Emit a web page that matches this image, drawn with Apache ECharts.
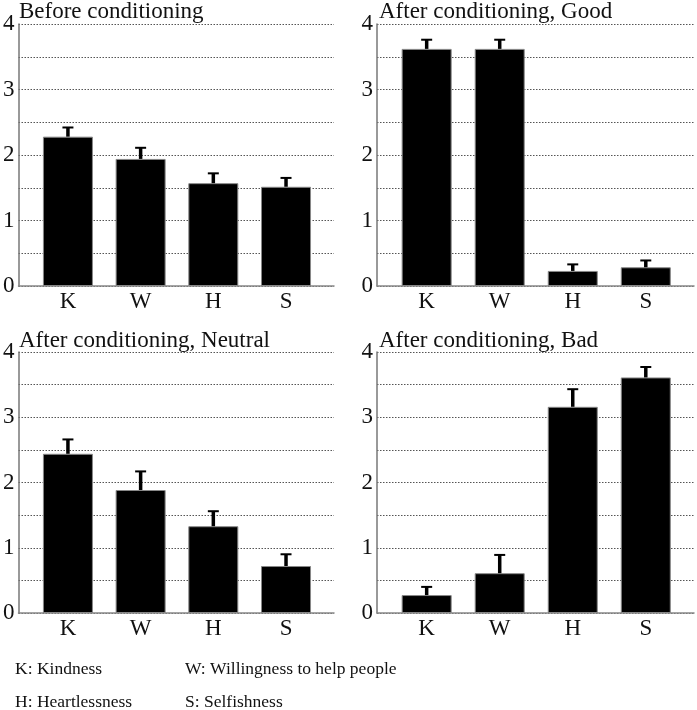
<!DOCTYPE html>
<html>
<head>
<meta charset="utf-8">
<script src="https://cdn.jsdelivr.net/npm/echarts@6/dist/echarts.min.js"></script>
<style>
html,body{margin:0;padding:0;background:#fff;}
#chart{width:697px;height:710px;}
</style>
</head>
<body>
<div id="chart"></div>
<script>
const categories = ['K', 'W', 'H', 'S'];
const panelTitles = ['Before conditioning', 'After conditioning, Good', 'After conditioning, Neutral', 'After conditioning, Bad'];
const yTicks = [0, 1, 2, 3, 4];

const beforeMean = [2.28, 1.94, 1.57, 1.515];
const beforeErrTop = [2.42, 2.11, 1.72, 1.65];
const goodMean = [3.62, 3.62, 0.23, 0.286];
const goodErrTop = [3.76, 3.76, 0.33, 0.39];
const neutralMean = [2.44, 1.885, 1.33, 0.72];
const neutralErrTop = [2.66, 2.17, 1.56, 0.90];
const badMean = [0.275, 0.61, 3.16, 3.61];
const badErrTop = [0.40, 0.89, 3.43, 3.77];

const legendLines = [
  ['K: Kindness', 'W: Willingness to help people'],
  ['H: Heartlessness', 'S: Selfishness']
];

const panels = [
  {mean: beforeMean, err: beforeErrTop},
  {mean: goodMean, err: goodErrTop},
  {mean: neutralMean, err: neutralErrTop},
  {mean: badMean, err: badErrTop}
];

const FONT = '"Liberation Serif", "Times New Roman", serif';
const gridPos = [
  {left: 17.5, right: 363, top: 24, bottom: 424},
  {left: 377, right: 3, top: 24, bottom: 424},
  {left: 17.5, right: 363, top: 352, bottom: 97},
  {left: 377, right: 3, top: 352, bottom: 97}
];
const titlePos = [
  {left: 19, top: 0},
  {left: 379, top: 0},
  {left: 19, top: 329},
  {left: 379, top: 329}
];

const grids = [], xAxes = [], yAxes = [], series = [], titles = [];
panels.forEach((p, i) => {
  grids.push(Object.assign({containLabel: false}, gridPos[i]));
  titles.push({
    text: panelTitles[i], left: titlePos[i].left, top: titlePos[i].top, padding: 0,
    textStyle: {fontFamily: FONT, fontSize: 23, fontWeight: 'normal', color: '#111'}
  });
  xAxes.push({
    type: 'value', gridIndex: i, min: 0.32, max: 4.66,
    splitLine: {show: false},
    axisLine: {show: true, onZero: false, lineStyle: {color: '#888', width: 1.5}},
    axisTick: {show: false},
    axisLabel: {
      show: true, customValues: [1, 2, 3, 4], margin: 4,
      formatter: v => categories[Math.round(v) - 1] || '',
      fontFamily: FONT, fontSize: 23, color: '#111'
    }
  });
  yAxes.push({
    type: 'value', gridIndex: i, min: 0, max: 4, interval: 0.5,
    axisLine: {show: true, lineStyle: {color: '#777', width: 1.5}},
    axisTick: {show: false},
    axisLabel: {
      margin: 4, fontFamily: FONT, fontSize: 23, color: '#111',
      formatter: v => (Math.abs(v - Math.round(v)) < 1e-6 && yTicks.includes(Math.round(v))) ? String(Math.round(v)) : ''
    },
    splitLine: {show: true, lineStyle: {color: '#555', type: [1.5, 1.5], width: 1}}
  });
  series.push({
    type: 'bar', xAxisIndex: i, yAxisIndex: i, barWidth: 50,
    data: p.mean.map((v, k) => [k + 1, v]),
    itemStyle: {color: '#000', borderColor: '#888', borderWidth: 1},
    z: 3
  });
  series.push({
    type: 'custom', xAxisIndex: i, yAxisIndex: i, z: 4,
    data: p.mean.map((v, k) => [k + 1, v, p.err[k]]),
    renderItem: (params, api) => {
      const x = api.value(0);
      const base = api.coord([x, api.value(1)]);
      const top = api.coord([x, api.value(2)]);
      return {
        type: 'group',
        children: [
          {type: 'line', shape: {x1: base[0], y1: base[1], x2: top[0], y2: top[1]}, style: {stroke: '#000', lineWidth: 3.5}},
          {type: 'line', shape: {x1: top[0] - 5.5, y1: top[1], x2: top[0] + 5.5, y2: top[1]}, style: {stroke: '#000', lineWidth: 2}}
        ]
      };
    }
  });
});

const graphics = [];
legendLines.forEach((row, r) => {
  row.forEach((txt, c) => {
    graphics.push({
      type: 'text', left: c === 0 ? 15 : 185, top: 660 + r * 33,
      style: {text: txt, font: '17.5px ' + FONT, fill: '#111'}
    });
  });
});

const chart = echarts.init(document.getElementById('chart'), null, {renderer: 'canvas'});
chart.setOption({
  animation: false,
  backgroundColor: '#fff',
  title: titles,
  grid: grids,
  xAxis: xAxes,
  yAxis: yAxes,
  series: series,
  graphic: graphics
});
</script>
</body>
</html>
